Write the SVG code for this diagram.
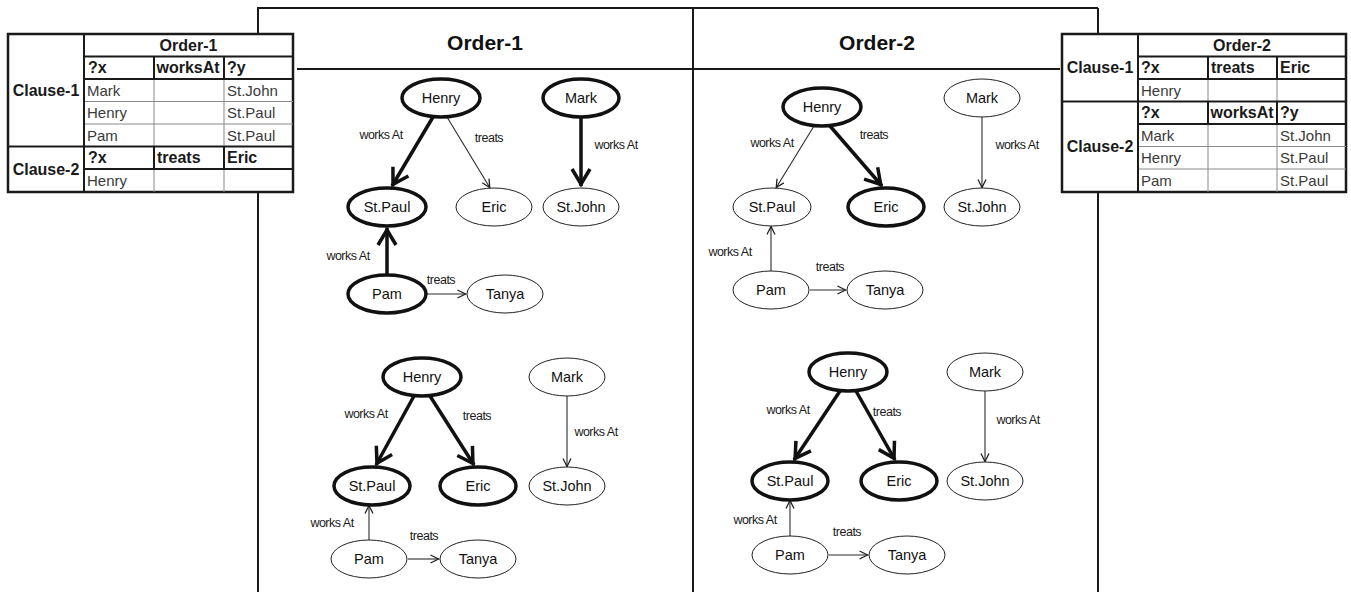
<svg xmlns="http://www.w3.org/2000/svg" width="1351" height="592" viewBox="0 0 1351 592">
<style>
.fr{stroke:#1a1a1a;stroke-width:2;fill:none}
.tk{stroke:#1a1a1a;stroke-width:2;fill:none}
.tn{stroke:#8a8a8a;stroke-width:1;fill:none}
.to{stroke:#1a1a1a;stroke-width:2.5;fill:#fff}
.th{font-family:"Liberation Sans",Arial,sans-serif;font-size:16px;font-weight:bold;fill:#1a1a1a}
.td{font-family:"Liberation Sans",Arial,sans-serif;font-size:15px;fill:#3a3a3a}
.title{font-family:"Liberation Sans",Arial,sans-serif;font-size:21px;font-weight:bold;fill:#111;text-anchor:middle}
.n{fill:#fff;stroke:#222;stroke-width:1}
.nb{fill:#fff;stroke:#111;stroke-width:3.5}
.nt{font-family:"Liberation Sans",Arial,sans-serif;font-size:14.5px;fill:#111;text-anchor:middle}
.e{stroke:#2a2a2a;stroke-width:1.1;fill:none;marker-end:url(#aThin)}
.eb{stroke:#111;stroke-width:3.5;fill:none;marker-end:url(#aThick)}
.lb{font-family:"Liberation Sans",Arial,sans-serif;font-size:12.5px;fill:#1a1a1a;text-anchor:middle;letter-spacing:-0.5px}
</style>
<defs>
<marker id="aThin" viewBox="0 0 10 10" refX="9.5" refY="5" markerWidth="10" markerHeight="10" markerUnits="userSpaceOnUse" orient="auto" overflow="visible"><path d="M1,1 L9,5 L1,9" fill="none" stroke="#222" stroke-width="1.3"/></marker>
<marker id="aThick" viewBox="0 0 22 22" refX="19" refY="11" markerWidth="22" markerHeight="22" markerUnits="userSpaceOnUse" orient="auto" overflow="visible"><path d="M2,2 L17,11 L2,20" fill="none" stroke="#111" stroke-width="3.5"/></marker>
</defs>
<rect width="1351" height="592" fill="#fff"/>
<g id="frame">
<line class="fr" x1="257" y1="8" x2="1098" y2="8"/>
<line class="fr" x1="258" y1="8" x2="258" y2="592"/>
<line class="fr" x1="693" y1="8" x2="693" y2="592"/>
<line class="fr" x1="1098" y1="8" x2="1098" y2="592"/>
<line class="fr" x1="297" y1="69" x2="1060" y2="69"/>
<text class="title" x="485" y="50">Order-1</text>
<text class="title" x="877" y="50">Order-2</text>
</g>
<g id="table-left">
<rect class="to" x="8" y="34" width="285" height="158"/>
<line class="tn" x1="84" y1="101.5" x2="293" y2="101.5"/>
<line class="tn" x1="84" y1="124" x2="293" y2="124"/>
<line class="tn" x1="154" y1="56.5" x2="154" y2="192"/>
<line class="tn" x1="224" y1="56.5" x2="224" y2="192"/>
<line class="tk" x1="154" y1="56.5" x2="154" y2="79"/>
<line class="tk" x1="224" y1="56.5" x2="224" y2="79"/>
<line class="tk" x1="154" y1="146.5" x2="154" y2="169"/>
<line class="tk" x1="224" y1="146.5" x2="224" y2="169"/>
<line class="tk" x1="84" y1="34" x2="84" y2="192"/>
<line class="tk" x1="84" y1="56.5" x2="293" y2="56.5"/>
<line class="tk" x1="84" y1="79" x2="293" y2="79"/>
<line class="tk" x1="8" y1="146.5" x2="293" y2="146.5"/>
<line class="tk" x1="84" y1="169" x2="293" y2="169"/>
<text class="th" x="188.5" y="51" text-anchor="middle">Order-1</text>
<text class="th" x="46" y="96" text-anchor="middle">Clause-1</text>
<text class="th" x="46" y="175" text-anchor="middle">Clause-2</text>
<text class="th" x="88" y="73">?x</text>
<text class="th" x="156.5" y="73">worksAt</text>
<text class="th" x="227" y="73">?y</text>
<text class="td" x="87" y="96">Mark</text>
<text class="td" x="227" y="96">St.John</text>
<text class="td" x="87" y="118">Henry</text>
<text class="td" x="227" y="118">St.Paul</text>
<text class="td" x="87" y="141">Pam</text>
<text class="td" x="227" y="141">St.Paul</text>
<text class="th" x="88" y="163">?x</text>
<text class="th" x="157" y="163">treats</text>
<text class="th" x="227" y="163">Eric</text>
<text class="td" x="87" y="186">Henry</text>
</g>
<g id="table-right">
<rect class="to" x="1062" y="34" width="284" height="158"/>
<line class="tn" x1="1138" y1="146.5" x2="1346" y2="146.5"/>
<line class="tn" x1="1138" y1="169" x2="1346" y2="169"/>
<line class="tn" x1="1208" y1="56.5" x2="1208" y2="192"/>
<line class="tn" x1="1277" y1="56.5" x2="1277" y2="192"/>
<line class="tk" x1="1208" y1="56.5" x2="1208" y2="79"/>
<line class="tk" x1="1277" y1="56.5" x2="1277" y2="79"/>
<line class="tk" x1="1208" y1="101.5" x2="1208" y2="124"/>
<line class="tk" x1="1277" y1="101.5" x2="1277" y2="124"/>
<line class="tk" x1="1138" y1="34" x2="1138" y2="192"/>
<line class="tk" x1="1138" y1="56.5" x2="1346" y2="56.5"/>
<line class="tk" x1="1138" y1="79" x2="1346" y2="79"/>
<line class="tk" x1="1062" y1="101.5" x2="1346" y2="101.5"/>
<line class="tk" x1="1138" y1="124" x2="1346" y2="124"/>
<text class="th" x="1242" y="51" text-anchor="middle">Order-2</text>
<text class="th" x="1100" y="73" text-anchor="middle">Clause-1</text>
<text class="th" x="1100" y="152" text-anchor="middle">Clause-2</text>
<text class="th" x="1141" y="73">?x</text>
<text class="th" x="1211" y="73">treats</text>
<text class="th" x="1280" y="73">Eric</text>
<text class="td" x="1141" y="96">Henry</text>
<text class="th" x="1141" y="118">?x</text>
<text class="th" x="1210.5" y="118">worksAt</text>
<text class="th" x="1280" y="118">?y</text>
<text class="td" x="1141" y="141">Mark</text>
<text class="td" x="1280" y="141">St.John</text>
<text class="td" x="1141" y="163">Henry</text>
<text class="td" x="1280" y="163">St.Paul</text>
<text class="td" x="1141" y="186">Pam</text>
<text class="td" x="1280" y="186">St.Paul</text>
</g>
<g id="connectors">
<line class="eb" x1="433" y1="117" x2="392" y2="186"/>
<line class="e" x1="447" y1="117" x2="490" y2="188"/>
<line class="eb" x1="581" y1="117" x2="581" y2="186"/>
<line class="eb" x1="387" y1="275" x2="387" y2="228"/>
<line class="e" x1="426" y1="294" x2="466" y2="294"/>
<line class="e" x1="814" y1="126" x2="776" y2="188"/>
<line class="eb" x1="830" y1="126" x2="882" y2="186"/>
<line class="e" x1="982" y1="117" x2="982" y2="188"/>
<line class="e" x1="771" y1="271" x2="771" y2="226"/>
<line class="e" x1="810" y1="290" x2="846" y2="290"/>
<line class="eb" x1="414" y1="396" x2="376" y2="465"/>
<line class="eb" x1="430" y1="396" x2="474" y2="465"/>
<line class="e" x1="567" y1="396" x2="567" y2="467"/>
<line class="e" x1="369" y1="540" x2="369" y2="505"/>
<line class="e" x1="408" y1="559" x2="439" y2="559"/>
<line class="eb" x1="840" y1="391" x2="794" y2="460"/>
<line class="eb" x1="856" y1="391" x2="895" y2="460"/>
<line class="e" x1="985" y1="391" x2="985" y2="462"/>
<line class="e" x1="790" y1="536" x2="790" y2="500"/>
<line class="e" x1="829" y1="555" x2="868" y2="555"/>
<text class="lb" x="381" y="139">works At</text>
<text class="lb" x="489" y="142">treats</text>
<text class="lb" x="616" y="149">works At</text>
<text class="lb" x="348" y="260">works At</text>
<text class="lb" x="441" y="284">treats</text>
<text class="lb" x="772" y="147">works At</text>
<text class="lb" x="874" y="139">treats</text>
<text class="lb" x="1017" y="149">works At</text>
<text class="lb" x="730" y="256">works At</text>
<text class="lb" x="830" y="271">treats</text>
<text class="lb" x="366" y="418">works At</text>
<text class="lb" x="477" y="420">treats</text>
<text class="lb" x="596" y="436">works At</text>
<text class="lb" x="332" y="527">works At</text>
<text class="lb" x="424" y="540">treats</text>
<text class="lb" x="788" y="414">works At</text>
<text class="lb" x="887" y="416">treats</text>
<text class="lb" x="1018" y="424">works At</text>
<text class="lb" x="755" y="524">works At</text>
<text class="lb" x="847" y="536">treats</text>
</g>
<g id="o1a-henry"><ellipse class="nb" cx="441" cy="98" rx="39" ry="19"/><text class="nt" x="441" y="103">Henry</text></g>
<g id="o1a-mark"><ellipse class="nb" cx="581" cy="98" rx="38" ry="19"/><text class="nt" x="581" y="103">Mark</text></g>
<g id="o1a-stpaul"><ellipse class="nb" cx="387" cy="207" rx="39" ry="19"/><text class="nt" x="387" y="212">St.Paul</text></g>
<g id="o1a-eric"><ellipse class="n" cx="494" cy="207" rx="38" ry="19"/><text class="nt" x="494" y="212">Eric</text></g>
<g id="o1a-stjohn"><ellipse class="n" cx="581" cy="207" rx="38" ry="19"/><text class="nt" x="581" y="212">St.John</text></g>
<g id="o1a-pam"><ellipse class="nb" cx="387" cy="294" rx="39" ry="19"/><text class="nt" x="387" y="299">Pam</text></g>
<g id="o1a-tanya"><ellipse class="n" cx="505" cy="294" rx="38" ry="19"/><text class="nt" x="505" y="299">Tanya</text></g>
<g id="o2a-henry"><ellipse class="nb" cx="822" cy="107" rx="39" ry="19"/><text class="nt" x="822" y="112">Henry</text></g>
<g id="o2a-mark"><ellipse class="n" cx="982" cy="98" rx="38" ry="19"/><text class="nt" x="982" y="103">Mark</text></g>
<g id="o2a-stpaul"><ellipse class="n" cx="772" cy="207" rx="39" ry="19"/><text class="nt" x="772" y="212">St.Paul</text></g>
<g id="o2a-eric"><ellipse class="nb" cx="886" cy="207" rx="38" ry="19"/><text class="nt" x="886" y="212">Eric</text></g>
<g id="o2a-stjohn"><ellipse class="n" cx="982" cy="207" rx="38" ry="19"/><text class="nt" x="982" y="212">St.John</text></g>
<g id="o2a-pam"><ellipse class="n" cx="771" cy="290" rx="38" ry="19"/><text class="nt" x="771" y="295">Pam</text></g>
<g id="o2a-tanya"><ellipse class="n" cx="885" cy="290" rx="38" ry="19"/><text class="nt" x="885" y="295">Tanya</text></g>
<g id="o1b-henry"><ellipse class="nb" cx="422" cy="377" rx="39" ry="19"/><text class="nt" x="422" y="382">Henry</text></g>
<g id="o1b-mark"><ellipse class="n" cx="567" cy="377" rx="38" ry="19"/><text class="nt" x="567" y="382">Mark</text></g>
<g id="o1b-stpaul"><ellipse class="nb" cx="372" cy="486" rx="38" ry="19"/><text class="nt" x="372" y="491">St.Paul</text></g>
<g id="o1b-eric"><ellipse class="nb" cx="478" cy="486" rx="38" ry="19"/><text class="nt" x="478" y="491">Eric</text></g>
<g id="o1b-stjohn"><ellipse class="n" cx="567" cy="486" rx="38" ry="19"/><text class="nt" x="567" y="491">St.John</text></g>
<g id="o1b-pam"><ellipse class="n" cx="369" cy="559" rx="38" ry="19"/><text class="nt" x="369" y="564">Pam</text></g>
<g id="o1b-tanya"><ellipse class="n" cx="478" cy="559" rx="38" ry="19"/><text class="nt" x="478" y="564">Tanya</text></g>
<g id="o2b-henry"><ellipse class="nb" cx="848" cy="372" rx="39" ry="19"/><text class="nt" x="848" y="377">Henry</text></g>
<g id="o2b-mark"><ellipse class="n" cx="985" cy="372" rx="38" ry="19"/><text class="nt" x="985" y="377">Mark</text></g>
<g id="o2b-stpaul"><ellipse class="nb" cx="790" cy="481" rx="38" ry="19"/><text class="nt" x="790" y="486">St.Paul</text></g>
<g id="o2b-eric"><ellipse class="nb" cx="899" cy="481" rx="38" ry="19"/><text class="nt" x="899" y="486">Eric</text></g>
<g id="o2b-stjohn"><ellipse class="n" cx="985" cy="481" rx="38" ry="19"/><text class="nt" x="985" y="486">St.John</text></g>
<g id="o2b-pam"><ellipse class="n" cx="790" cy="555" rx="38" ry="19"/><text class="nt" x="790" y="560">Pam</text></g>
<g id="o2b-tanya"><ellipse class="n" cx="907" cy="555" rx="38" ry="19"/><text class="nt" x="907" y="560">Tanya</text></g>
</svg>
